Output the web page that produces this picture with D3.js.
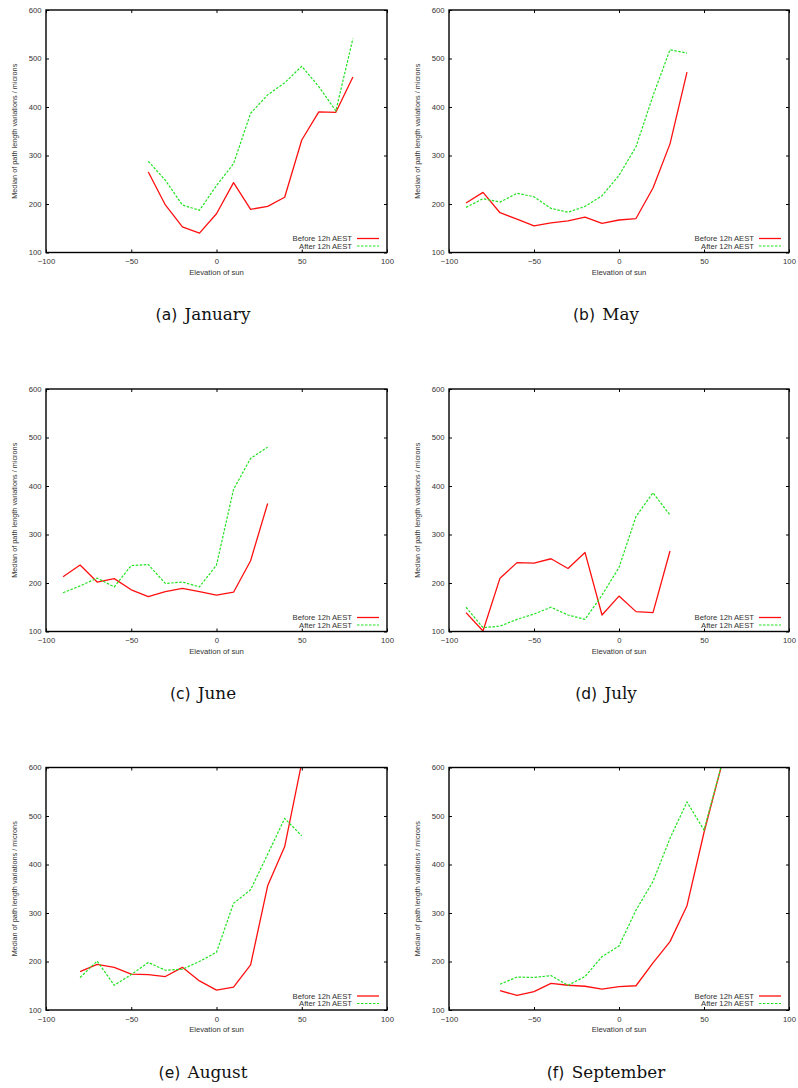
<!DOCTYPE html>
<html>
<head>
<meta charset="utf-8">
<script src="https://cdn.jsdelivr.net/npm/d3@7/dist/d3.min.js"></script>
<style>
html,body{margin:0;padding:0;background:#fff;}
svg{display:block;}
</style>
</head>
<body>
<svg id="chart" width="798" height="1088"></svg>
<script>
// ---------- data ----------
const xTicks = [-100, -50, 0, 50, 100];
const yTicks = [100, 200, 300, 400, 500, 600];
const seriesNames = ["Before 12h AEST", "After 12h AEST"];
const xTitle = "Elevation of sun";
const yTitle = "Median of path length variations / microns";

const janElev   = [-40, -30, -20, -10, 0, 10, 20, 30, 40, 50, 60, 70, 80];
const janBefore = [266, 198, 153, 140, 180, 244, 189, 195, 214, 332, 390, 389, 462];
const janAfter  = [288, 249, 198, 187, 238, 283, 387, 425, 450, 484, 442, 392, 541];

const mayElev   = [-90, -80, -70, -60, -50, -40, -30, -20, -10, 0, 10, 20, 30, 40];
const mayBefore = [202, 224, 182, 169, 155, 161, 165, 173, 160, 167, 170, 233, 324, 472];
const mayAfter  = [193, 211, 204, 222, 215, 191, 183, 195, 217, 259, 318, 423, 518, 511];

const junElev   = [-90, -80, -70, -60, -50, -40, -30, -20, -10, 0, 10, 20, 30];
const junBefore = [213, 237, 202, 209, 186, 172, 182, 189, 182, 175, 181, 246, 364];
const junAfter  = [180, 194, 210, 192, 236, 238, 199, 202, 192, 237, 393, 457, 480];

const julElev   = [-90, -80, -70, -60, -50, -40, -30, -20, -10, 0, 10, 20, 30];
const julBefore = [139, 101, 210, 242, 241, 250, 230, 263, 134, 173, 141, 139, 266];
const julAfter  = [150, 108, 111, 125, 136, 150, 134, 125, 175, 232, 337, 386, 340];

const augElev   = [-80, -70, -60, -50, -40, -30, -20, -10, 0, 10, 20, 30, 40, 50];
const augBefore = [179, 194, 188, 174, 173, 169, 188, 160, 141, 147, 193, 356, 437, 610];
const augAfter  = [167, 201, 151, 173, 198, 182, 184, 200, 219, 320, 348, 421, 495, 459];

const sepElev   = [-70, -60, -50, -40, -30, -20, -10, 0, 10, 20, 30, 40, 50, 60];
const sepBefore = [140, 130, 138, 155, 151, 149, 143, 148, 150, 197, 241, 315, 466, 600];
const sepAfter  = [153, 168, 167, 171, 151, 169, 210, 232, 306, 365, 454, 529, 471, 601];

const panelLabels = ["(a)", "(b)", "(c)", "(d)", "(e)", "(f)"];
const monthNames  = ["January", "May", "June", "July", "August", "September"];

const panels = [
  {elev: janElev, before: janBefore, after: janAfter},
  {elev: mayElev, before: mayBefore, after: mayAfter},
  {elev: junElev, before: junBefore, after: junAfter},
  {elev: julElev, before: julBefore, after: julAfter},
  {elev: augElev, before: augBefore, after: augAfter},
  {elev: sepElev, before: sepBefore, after: sepAfter}
];

// ---------- layout ----------
const colLeft = [46, 449];
const colWidth = [341, 340];
const colCaption = [203, 606];
const rowTop = [10, 389, 767.5];
const plotH = 242.5;
const RED = "#ff1010";
const GREEN = "#22e322";
const tickFont = "'Liberation Sans', Arial, Helvetica, sans-serif";

const svg = d3.select("#chart");

panels.forEach((p, i) => {
  const col = i % 2, row = Math.floor(i / 2);
  const W = colWidth[col], H = plotH;
  const g = svg.append("g").attr("transform", `translate(${colLeft[col]},${rowTop[row]})`);

  const x = d3.scaleLinear().domain([-100, 100]).range([0, W]);
  const y = d3.scaleLinear().domain([100, 600]).range([H, 0]);

  const clipId = "clip" + i;
  g.append("clipPath").attr("id", clipId)
    .append("rect").attr("x", 0).attr("y", 0).attr("width", W).attr("height", H);

  // axes
  const styleAxis = (sel, labels) => {
    sel.select(".domain").remove();
    sel.selectAll(".tick line").attr("stroke", "#000").attr("stroke-width", 1);
    sel.selectAll(".tick text")
      .attr("fill", "#333")
      .style("font-family", tickFont)
      .style("font-size", "7.7px");
    if (!labels) sel.selectAll(".tick text").remove();
  };

  g.append("g").attr("transform", `translate(0,${H})`)
    .call(d3.axisBottom(x).tickValues(xTicks).tickSize(-3).tickPadding(6.5).tickFormat(d3.format("d")))
    .call(s => styleAxis(s, true));
  g.append("g")
    .call(d3.axisTop(x).tickValues(xTicks).tickSize(-3))
    .call(s => styleAxis(s, false));
  g.append("g")
    .call(d3.axisLeft(y).tickValues(yTicks).tickSize(-3).tickPadding(4.5).tickFormat(d3.format("d")))
    .call(s => styleAxis(s, true));
  g.append("g").attr("transform", `translate(${W},0)`)
    .call(d3.axisRight(y).tickValues(yTicks).tickSize(-3))
    .call(s => styleAxis(s, false));

  // lines
  const line = d3.line().x(d => x(d[0])).y(d => y(d[1]));
  const lineG = g.append("g").attr("clip-path", `url(#${clipId})`);
  lineG.append("path")
    .datum(p.elev.map((e, k) => [e, p.before[k]]))
    .attr("d", line).attr("fill", "none")
    .attr("stroke", RED).attr("stroke-width", 1.3).attr("stroke-linejoin", "round");
  lineG.append("path")
    .datum(p.elev.map((e, k) => [e, p.after[k]]))
    .attr("d", line).attr("fill", "none")
    .attr("stroke", GREEN).attr("stroke-width", 1.2)
    .attr("stroke-dasharray", "2.5,1.5");

  // border
  g.append("rect").attr("x", 0).attr("y", 0).attr("width", W).attr("height", H)
    .attr("fill", "none").attr("stroke", "#000").attr("stroke-width", 1.4);

  // legend
  const leg = g.append("g");
  const legY = [H - 14, H - 6.5];
  [RED, GREEN].forEach((c, k) => {
    leg.append("text")
      .attr("x", W - 35).attr("y", legY[k]).attr("dy", "0.33em")
      .attr("text-anchor", "end")
      .attr("fill", "#333")
      .style("font-family", tickFont).style("font-size", "7.7px")
      .text(seriesNames[k]);
    leg.append("line")
      .attr("x1", W - 30).attr("x2", W - 8)
      .attr("y1", legY[k]).attr("y2", legY[k])
      .attr("stroke", c).attr("stroke-width", k === 0 ? 1.3 : 1.2)
      .attr("stroke-dasharray", k === 0 ? null : "2.5,1.5");
  });

  // axis titles
  g.append("text")
    .attr("x", W / 2).attr("y", H + 22)
    .attr("text-anchor", "middle").attr("fill", "#333")
    .style("font-family", tickFont).style("font-size", "7.7px")
    .text(xTitle);
  g.append("text")
    .attr("transform", `translate(-31,${H / 2}) rotate(-90)`)
    .attr("text-anchor", "middle").attr("dy", "0.33em").attr("fill", "#333")
    .style("font-family", tickFont).style("font-size", "7.3px")
    .text(yTitle);

  // caption
  const cap = svg.append("text")
    .attr("x", colCaption[col]).attr("y", rowTop[row] + 310)
    .attr("text-anchor", "middle").attr("fill", "#111");
  cap.append("tspan")
    .style("font-family", "'DejaVu Sans', sans-serif").style("font-size", "15.5px")
    .text(panelLabels[i]);
  cap.append("tspan")
    .attr("dx", 2)
    .style("font-family", "'DejaVu Serif', serif").style("font-size", "16.8px")
    .style("font-weight", 300)
    .text("\u00a0" + monthNames[i]);
});
</script>
</body>
</html>
